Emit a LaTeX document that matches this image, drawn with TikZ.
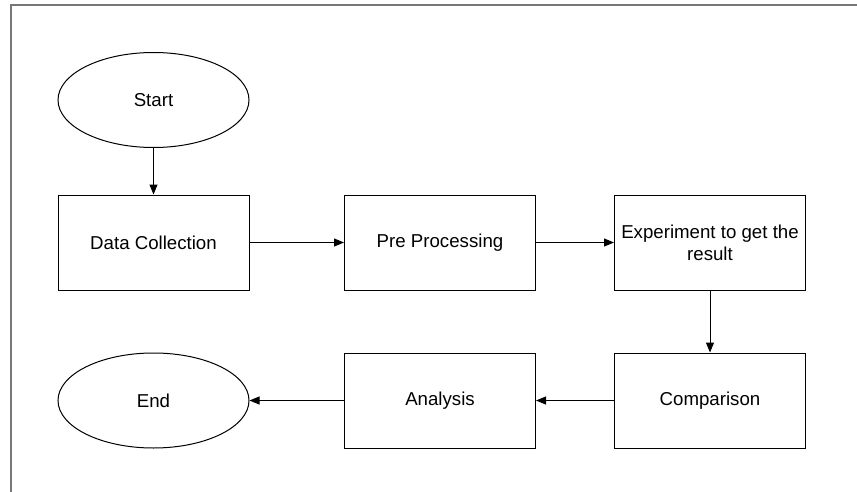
\documentclass[tikz,border=0pt]{standalone}
\usepackage{fontspec}
\setmainfont{Liberation Sans}
\usetikzlibrary{shapes.geometric,arrows.meta}

\begin{document}
\begin{tikzpicture}[x=0.75pt,y=0.75pt,yscale=-1,xscale=1,
    stepbox/.style={draw,line width=0.75pt,minimum width=143.25pt,minimum height=71.25pt,inner sep=0pt,
      align=center,font=\fontsize{14}{16.5}\selectfont},
    terminal/.style={stepbox,ellipse},
    flow/.style={line width=0.75pt,-{Stealth[length=7.5pt,width=6pt,inset=0pt]}}]
        %set diagram to the size of the page
        \useasboundingbox (0,0) rectangle (857,492);

        %Straight Lines: frame
        \draw [color={rgb, 255:red, 120; green, 120; blue, 120 },line width=1.5pt] (11,492) -- (11,5) -- (857,5) ;

        %Shape: Ellipse
        \node [terminal] (start) at (153.5,100) {Start};
        %Shape: Rectangle
        \node [stepbox] (collect) at (153.5,242.5) {Data Collection};
        %Shape: Rectangle
        \node [stepbox] (preproc) at (440,242.5) {Pre Processing};
        %Shape: Rectangle
        \node [stepbox] (experiment) at (710,242.5) {Experiment to get the\\result};
        %Shape: Rectangle
        \node [stepbox] (compare) at (710,400.5) {Comparison};
        %Shape: Rectangle
        \node [stepbox] (analysis) at (440,400.5) {Analysis};
        %Shape: Ellipse
        \node [terminal] (finish) at (153.5,400.5) {End};

        %Straight Lines
        \draw [flow] (start) -- (collect) ;
        %Straight Lines
        \draw [flow] (collect) -- (preproc) ;
        %Straight Lines
        \draw [flow] (preproc) -- (experiment) ;
        %Straight Lines
        \draw [flow] (experiment) -- (compare) ;
        %Straight Lines
        \draw [flow] (compare) -- (analysis) ;
        %Straight Lines
        \draw [flow] (analysis) -- (finish) ;

\end{tikzpicture}
\end{document}
